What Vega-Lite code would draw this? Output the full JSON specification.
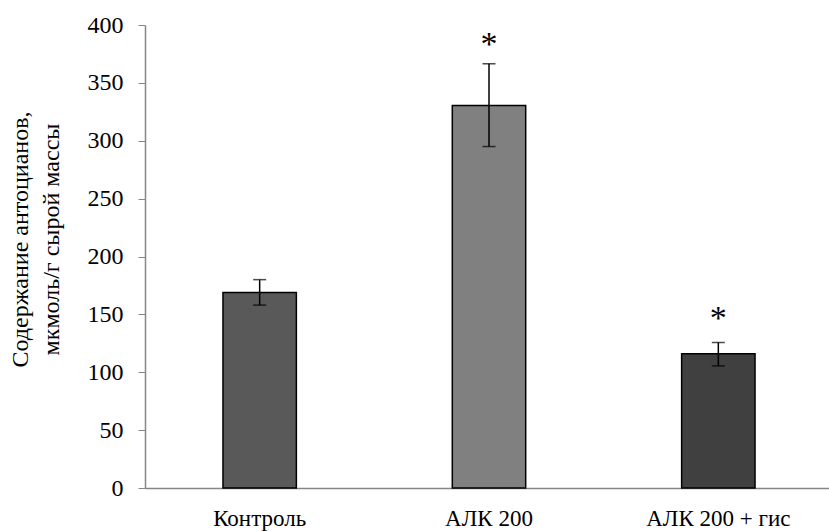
{
  "$schema": "https://vega.github.io/schema/vega-lite/v6.json",
  "width": 688,
  "height": 463,
  "autosize": {"type": "none"},
  "padding": {"left": 145, "top": 25, "right": 0, "bottom": 43},
  "background": "white",
  "config": {
    "view": {"stroke": null},
    "font": "Times New Roman, Liberation Serif, serif",
    "axis": {"labelFont": "Times New Roman, Liberation Serif, serif", "titleFont": "Times New Roman, Liberation Serif, serif", "labelColor": "black", "titleColor": "black", "grid": false}
  },
  "data": {
    "values": [
      {"group": "Контроль", "mean": 169, "lo": 158, "hi": 180, "star": "", "star_y": 0},
      {"group": "АЛК 200", "mean": 330.5, "lo": 295, "hi": 366.5, "star": "*", "star_y": 387.6},
      {"group": "АЛК 200 + гис", "mean": 116, "lo": 105.5, "hi": 125.7, "star": "*", "star_y": 151.2}
    ]
  },
  "encoding": {
    "x": {
      "field": "group", "type": "nominal", "sort": null,
      "scale": {"paddingInner": 0.68, "paddingOuter": 0.34},
      "axis": {"title": null, "labelAngle": 0, "labelFontSize": 23, "ticks": false, "labelPadding": 19, "domainColor": "#868686", "domainWidth": 1.5}
    }
  },
  "layer": [
    {
      "mark": {"type": "bar", "stroke": "black", "strokeWidth": 1.5},
      "encoding": {
        "y": {
          "field": "mean", "type": "quantitative",
          "scale": {"domain": [0, 400]},
          "axis": {
            "values": [0, 50, 100, 150, 200, 250, 300, 350, 400],
            "labelFontSize": 24, "tickSize": 7, "tickColor": "#868686", "domainColor": "#868686", "domainWidth": 1.5,
            "labelPadding": 15,
            "title": ["Содержание антоцианов,", "мкмоль/г сырой массы"],
            "titleFontSize": 24, "titleFontWeight": "normal", "titlePadding": 24, "titleLineHeight": 31, "titleY": 214
          }
        },
        "color": {
          "field": "group", "type": "nominal", "sort": null, "legend": null,
          "scale": {"domain": ["Контроль", "АЛК 200", "АЛК 200 + гис"], "range": ["#595959", "#808080", "#404040"]}
        }
      }
    },
    {
      "mark": {"type": "rule", "color": "black", "strokeWidth": 1.5},
      "encoding": {"y": {"field": "lo", "type": "quantitative"}, "y2": {"field": "hi"}}
    },
    {
      "mark": {"type": "tick", "color": "black", "thickness": 1.5, "size": 13},
      "encoding": {"y": {"field": "lo", "type": "quantitative"}}
    },
    {
      "mark": {"type": "tick", "color": "black", "thickness": 1.5, "size": 13},
      "encoding": {"y": {"field": "hi", "type": "quantitative"}}
    },
    {
      "mark": {"type": "text", "fontSize": 34, "baseline": "alphabetic", "dy": 16, "color": "black"},
      "encoding": {"y": {"field": "star_y", "type": "quantitative"}, "text": {"field": "star"}}
    }
  ]
}
